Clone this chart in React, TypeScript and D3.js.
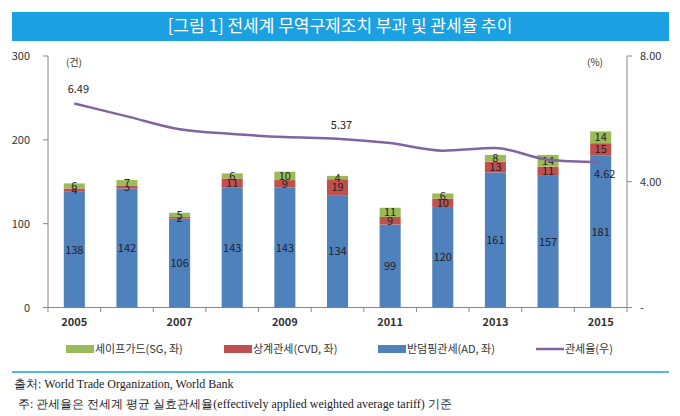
import * as React from 'react';
import * as d3 from 'd3';

const years = ['2005', '2006', '2007', '2008', '2009', '2010', '2011', '2012', '2013', '2014', '2015'];
const adValues = [138, 142, 106, 143, 143, 134, 99, 120, 161, 157, 181];
const cvdValues = [4, 3, 2, 11, 9, 19, 9, 10, 13, 11, 15];
const sgValues = [6, 7, 5, 6, 10, 4, 11, 6, 8, 14, 14];
const tariffRates = [6.49, 6.08, 5.67, 5.52, 5.42, 5.37, 5.23, 4.99, 5.07, 4.7, 4.62];
const tariffLabels = ['6.49', '', '', '', '', '5.37', '', '', '', '', '4.62'];
const leftTicks = [0, 100, 200, 300];
const rightTicks = [0, 4, 8];

const C_AD = '#4F81BD';
const C_CVD = '#C0504D';
const C_SG = '#9BBB59';
const C_LINE = '#8064A2';
const font = '"Noto Sans CJK KR", "Noto Sans", sans-serif';

export default function App() {
  const x = d3.scaleBand().domain(years).range([48, 627]).paddingInner(0.6).paddingOuter(0.3);
  const yL = d3.scaleLinear().domain([0, 300]).range([307.5, 56]);
  const yR = d3.scaleLinear().domain([0, 8]).range([307.5, 56]);

  const stackRows = years.map((yr, i) => ({ yr, ad: adValues[i], cvd: cvdValues[i], sg: sgValues[i] }));
  const series = d3.stack<any>().keys(['ad', 'cvd', 'sg'])(stackRows);
  const colors = [C_AD, C_CVD, C_SG];

  const line = d3.line<number>()
    .x((_, i) => x(years[i])! + x.bandwidth() / 2)
    .y(d => yR(d))
    .curve(d3.curveMonotoneX);

  const edges = years.map(y => x(y)! - (x.step() * x.paddingInner()) / 2).concat([627]);

  return (
    <svg width={680} height={416} style={{ position: 'absolute', left: 0, top: 0, fontFamily: font }}>
      <rect width={680} height={416} fill="#fff" />
      <rect x={12} y={12} width={657} height={29} fill="#1BA1E2" />
      <text x={340} y={32} textAnchor="middle" fill="#fff" fontSize={17}>[그림 1] 전세계 무역구제조치 부과 및 관세율 추이</text>

      {/* left axis */}
      <line x1={48} x2={48} y1={56} y2={307.5} stroke="#888" />
      {leftTicks.map(t => (
        <g key={t}>
          <line x1={43} x2={48} y1={yL(t)} y2={yL(t)} stroke="#888" />
          <text x={30} y={yL(t) + 4} textAnchor="end" fontSize={11} fill="#333">{t}</text>
        </g>
      ))}
      <text x={66} y={66} fontSize={10} fill="#333">(건)</text>

      {/* right axis */}
      <line x1={627} x2={627} y1={56} y2={307.5} stroke="#888" />
      {rightTicks.map(t => (
        <g key={t}>
          <line x1={627} x2={632} y1={yR(t)} y2={yR(t)} stroke="#888" />
          <text x={640} y={yR(t) + 4} fontSize={11} fill="#333">{t === 0 ? '-' : t.toFixed(2)}</text>
        </g>
      ))}
      <text x={603} y={66} fontSize={10} fill="#333" textAnchor="end">(%)</text>

      {/* x axis */}
      <line x1={48} x2={627} y1={307.5} y2={307.5} stroke="#888" />
      {edges.map((e, i) => (
        <line key={i} x1={e} x2={e} y1={307.5} y2={312} stroke="#888" />
      ))}
      {years.map((yr, i) => i % 2 === 0 && (
        <text key={yr} x={x(yr)! + x.bandwidth() / 2} y={326} textAnchor="middle" fontSize={11} fontWeight="bold" fill="#333">{yr}</text>
      ))}

      {/* bars */}
      {series.map((s, si) => (
        <g key={si}>
          {s.map((d, i) => {
            const yTop = yL(d[1]);
            const h = yL(d[0]) - yL(d[1]);
            const cx = x(years[i])! + x.bandwidth() / 2;
            const v = d[1] - d[0];
            const ty = si === 0 ? yL(d[0] + v / 2 - 4) + 4 : yTop + h / 2 + 4;
            return (
              <g key={i}>
                <rect x={x(years[i])} y={yTop} width={x.bandwidth()} height={h} fill={colors[si]} />
                <text x={cx} y={si === 0 ? yL(v / 2) + 4 : ty} textAnchor="middle" fontSize={11} fill="#222">{v}</text>
              </g>
            );
          })}
        </g>
      ))}

      {/* tariff line */}
      <path d={line(tariffRates)!} fill="none" stroke={C_LINE} strokeWidth={2.5} />
      {tariffRates.map((r, i) => tariffLabels[i] && (
        <text key={i} x={x(years[i])! + x.bandwidth() / 2 + (i === 10 ? 4 : 4)} y={i === 10 ? yR(r) + 16 : yR(r) - 10} textAnchor="middle" fontSize={11} fill="#222">{tariffLabels[i]}</text>
      ))}

      {/* legend */}
      {[
        { label: '세이프가드(SG, 좌)', color: C_SG, x: 66, line: false },
        { label: '상계관세(CVD, 좌)', color: C_CVD, x: 224, line: false },
        { label: '반덤핑관세(AD, 좌)', color: C_AD, x: 378, line: false },
        { label: '관세율(우)', color: C_LINE, x: 536, line: true },
      ].map(l => (
        <g key={l.label}>
          {l.line
            ? <line x1={l.x} x2={l.x + 28} y1={349} y2={349} stroke={l.color} strokeWidth={2.5} />
            : <rect x={l.x} y={345} width={28} height={8} fill={l.color} />}
          <text x={l.x + 29} y={353} fontSize={11} fill="#333">{l.label}</text>
        </g>
      ))}

      <line x1={12} x2={669} y1={372} y2={372} stroke="#1BA1E2" strokeWidth={1.5} />
      <text x={14} y={388} fontSize={12} fill="#222" fontFamily='"Liberation Serif", serif'>출처: World Trade Organization, World Bank</text>
      <text x={18} y={408} fontSize={12} fill="#222" fontFamily='"Liberation Serif", serif'>주: 관세율은 전세계 평균 실효관세율(effectively applied weighted average tariff) 기준</text>
    </svg>
  );
}
